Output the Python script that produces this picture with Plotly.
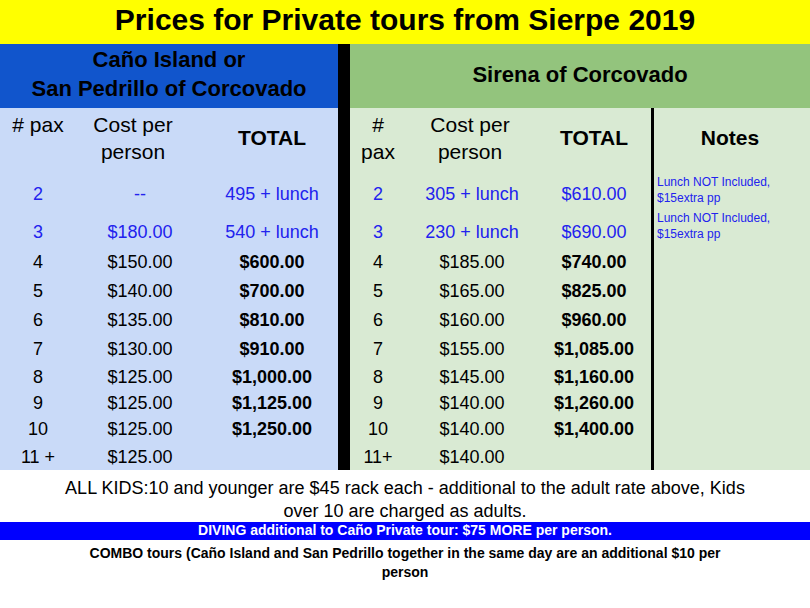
import plotly.graph_objects as go

# data
title = "Prices for Private tours from Sierpe 2019"
left_header = "Caño Island or<br>San Pedrillo of Corcovado"
right_header = "Sirena of Corcovado"

left_pax = ["2", "3", "4", "5", "6", "7", "8", "9", "10", "11 +"]
left_cost = ["--", "$180.00", "$150.00", "$140.00", "$135.00", "$130.00",
             "$125.00", "$125.00", "$125.00", "$125.00"]
left_total = ["495 + lunch", "540 + lunch", "$600.00", "$700.00", "$810.00",
              "$910.00", "$1,000.00", "$1,125.00", "$1,250.00", ""]

right_pax = ["2", "3", "4", "5", "6", "7", "8", "9", "10", "11+"]
right_cost = ["305 + lunch", "230 + lunch", "$185.00", "$165.00", "$160.00",
              "$155.00", "$145.00", "$140.00", "$140.00", "$140.00"]
right_total = ["$610.00", "$690.00", "$740.00", "$825.00", "$960.00",
               "$1,085.00", "$1,160.00", "$1,260.00", "$1,400.00", ""]
notes = ["Lunch NOT Included,<br>$15extra pp", "Lunch NOT Included,<br>$15extra pp"]

kids_note = "ALL KIDS:10 and younger are $45 rack each - additional to the adult rate above, Kids<br>over 10 are charged as adults."
diving_note = "DIVING additional to Caño Private tour: $75 MORE per person."
combo_note = "COMBO tours (Caño Island and San Pedrillo together in the same day are an additional $10 per<br>person"

row_y = [195, 233, 263, 292, 321, 350, 378, 404, 430, 458]
FONT = "Liberation Sans, Arial, sans-serif"
BLUE = "#2222ee"

fig = go.Figure()

def rect(x0, y0, x1, y1, color):
    fig.add_shape(type="rect", x0=x0, y0=y0, x1=x1, y1=y1,
                  fillcolor=color, line_width=0, layer="below")

rect(0, 0, 810, 44, "#FFFF00")
rect(0, 44, 338, 108, "#1155CC")
rect(350, 44, 810, 108, "#93C47D")
rect(0, 108, 338, 470, "#C9DAF8")
rect(350, 108, 810, 470, "#D9EAD3")
rect(338, 44, 350, 470, "#000000")
rect(651, 108, 654, 470, "#000000")
rect(0, 522, 810, 540, "#0000FF")

def txt(xs, ys, texts, colors, size, bold=False, pos="middle center"):
    if bold:
        texts = ["<b>%s</b>" % t if t else "" for t in texts]
    fig.add_trace(go.Scatter(x=xs, y=ys, text=texts, mode="text",
                             textposition=pos, hoverinfo="skip",
                             textfont=dict(family=FONT, size=size, color=colors)))

txt([405], [22], [title], "#000000", 30, bold=True)
txt([169], [76], [left_header], "#000000", 22, bold=True)
txt([580], [76], [right_header], "#000000", 22, bold=True)

# column headers
txt([38, 133], [140, 140], ["# pax<br> ", "Cost per<br>person"], "#000000", 21)
txt([272], [140], ["TOTAL"], "#000000", 21, bold=True)
txt([378, 470], [140, 140], ["#<br>pax", "Cost per<br>person"], "#000000", 21)
txt([594, 730], [140, 140], ["TOTAL", "Notes"], "#000000", 21, bold=True)

row_colors = [BLUE if i < 2 else "#000000" for i in range(len(row_y))]
txt([38] * 10, row_y, left_pax, row_colors, 18)
txt([140] * 10, row_y, left_cost, row_colors, 18)
txt([272] * 2, row_y[:2], left_total[:2], BLUE, 18)
txt([272] * 7, row_y[2:9], left_total[2:9], "#000000", 18, bold=True)
txt([378] * 10, row_y, right_pax, row_colors, 18)
txt([472] * 10, row_y, right_cost, row_colors, 18)
txt([594] * 2, row_y[:2], right_total[:2], BLUE, 18)
txt([594] * 7, row_y[2:9], right_total[2:9], "#000000", 18, bold=True)
txt([657, 657], [191, 227], notes, BLUE, 12, pos="middle right")

txt([405], [501], [kids_note], "#000000", 18)
txt([405], [531], [diving_note], "#FFFFFF", 14, bold=True)
txt([405], [564], [combo_note], "#000000", 14, bold=True)

fig.update_layout(
    width=810, height=608, margin=dict(l=0, r=0, t=0, b=0),
    paper_bgcolor="white", plot_bgcolor="white", showlegend=False,
    xaxis=dict(range=[0, 810], visible=False, fixedrange=True),
    yaxis=dict(range=[608, 0], visible=False, fixedrange=True),
)

fig.write_html("out.html", config={"displayModeBar": False},
               post_script="document.body.style.margin='0';")
